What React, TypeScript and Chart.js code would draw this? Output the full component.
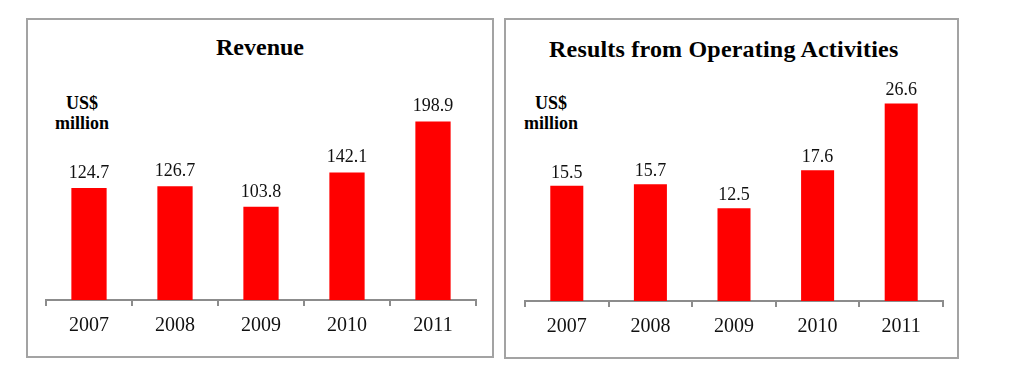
import React, { useEffect, useRef } from "react";
import { Chart, registerables } from "chart.js";

Chart.register(...registerables);

const years = ["2007", "2008", "2009", "2010", "2011"];
const revenue = [124.7, 126.7, 103.8, 142.1, 198.9];
const operatingResults = [15.5, 15.7, 12.5, 17.6, 26.6];

const SERIF = "'Liberation Serif', 'Times New Roman', serif";
const AXIS_GRAY = "#8c8c8c";
const PANEL_GRAY = "#a3a3a3";

const valueLabelPlugin = (offset: number) => ({
  id: "valueLabels",
  afterDatasetsDraw(chart: any) {
    const ctx = chart.ctx;
    const meta = chart.getDatasetMeta(0);
    const data = chart.data.datasets[0].data as number[];
    ctx.save();
    ctx.font = `18px ${SERIF}`;
    ctx.fillStyle = "#111";
    ctx.textAlign = "center";
    ctx.textBaseline = "alphabetic";
    meta.data.forEach((el: any, i: number) => {
      ctx.fillText(data[i].toFixed(1), el.x, el.y - offset);
    });
    ctx.restore();
  },
});

type PanelChartProps = {
  values: number[];
  yMax: number;
  barPercentage: number;
  padding: { left: number; right: number; top: number; bottom: number };
  labelOffset: number;
  left: number;
  top: number;
  width: number;
  height: number;
};

function PanelChart(props: PanelChartProps) {
  const ref = useRef<HTMLCanvasElement | null>(null);
  useEffect(() => {
    if (!ref.current) return;
    const chart = new Chart(ref.current, {
      type: "bar",
      data: {
        labels: years,
        datasets: [
          {
            data: props.values,
            backgroundColor: "#ff0000",
            borderWidth: 0,
            categoryPercentage: 1,
            barPercentage: props.barPercentage,
          },
        ],
      },
      options: {
        animation: false,
        responsive: false,
        devicePixelRatio: 1,
        layout: { padding: props.padding },
        plugins: {
          legend: { display: false },
          title: { display: false },
          tooltip: { enabled: false },
        },
        scales: {
          x: {
            grid: {
              display: true,
              offset: true,
              drawOnChartArea: false,
              drawTicks: true,
              tickLength: 6,
              color: AXIS_GRAY,
              lineWidth: 2,
            },
            border: { display: true, color: AXIS_GRAY, width: 2 },
            ticks: {
              color: "#111",
              padding: 8,
              font: { family: SERIF, size: 20 },
            },
          },
          y: {
            display: false,
            min: 0,
            max: props.yMax,
          },
        },
      },
      plugins: [valueLabelPlugin(props.labelOffset)],
    });
    return () => chart.destroy();
  }, []);
  return (
    <canvas
      ref={ref}
      width={props.width}
      height={props.height}
      style={{
        position: "absolute",
        left: props.left,
        top: props.top,
        width: props.width,
        height: props.height,
      }}
    />
  );
}

const unitStyle = (centerX: number): React.CSSProperties => ({
  position: "absolute",
  left: centerX - 40,
  width: 80,
  top: 93,
  textAlign: "center",
  fontFamily: SERIF,
  fontWeight: "bold",
  fontSize: 18,
  lineHeight: "20px",
  color: "#000",
});

export default function App() {
  return (
    <div
      style={{
        position: "absolute",
        left: 0,
        top: 0,
        width: 1009,
        height: 385,
        background: "#fff",
        overflow: "hidden",
      }}
    >
      <div
        style={{
          position: "absolute",
          left: 26,
          top: 18,
          width: 468,
          height: 340,
          boxSizing: "border-box",
          border: `2px solid ${PANEL_GRAY}`,
        }}
      />
      <div
        style={{
          position: "absolute",
          left: 504,
          top: 18,
          width: 455,
          height: 341,
          boxSizing: "border-box",
          border: `2px solid ${PANEL_GRAY}`,
        }}
      />
      <div
        style={{
          position: "absolute",
          left: 26,
          width: 468,
          top: 33,
          textAlign: "center",
          fontFamily: SERIF,
          fontWeight: "bold",
          fontSize: 24,
          lineHeight: "28px",
          color: "#000",
        }}
      >
        Revenue
      </div>
      <div
        style={{
          position: "absolute",
          left: 549,
          top: 35,
          whiteSpace: "nowrap",
          fontFamily: SERIF,
          fontWeight: "bold",
          fontSize: 24,
          lineHeight: "28px",
          letterSpacing: "0.2px",
          color: "#000",
        }}
      >
        Results from Operating Activities
      </div>
      <div style={unitStyle(82)}>
        US$
        <br />
        million
      </div>
      <div style={unitStyle(551)}>
        US$
        <br />
        million
      </div>
      <PanelChart
        values={revenue}
        yMax={225}
        barPercentage={0.41}
        padding={{ left: 18, right: 16, top: 38, bottom: 10 }}
        labelOffset={10}
        left={28}
        top={60}
        width={464}
        height={296}
      />
      <PanelChart
        values={operatingResults}
        yMax={28}
        barPercentage={0.395}
        padding={{ left: 19, right: 14, top: 33, bottom: 9 }}
        labelOffset={8}
        left={506}
        top={60}
        width={451}
        height={296}
      />
    </div>
  );
}
